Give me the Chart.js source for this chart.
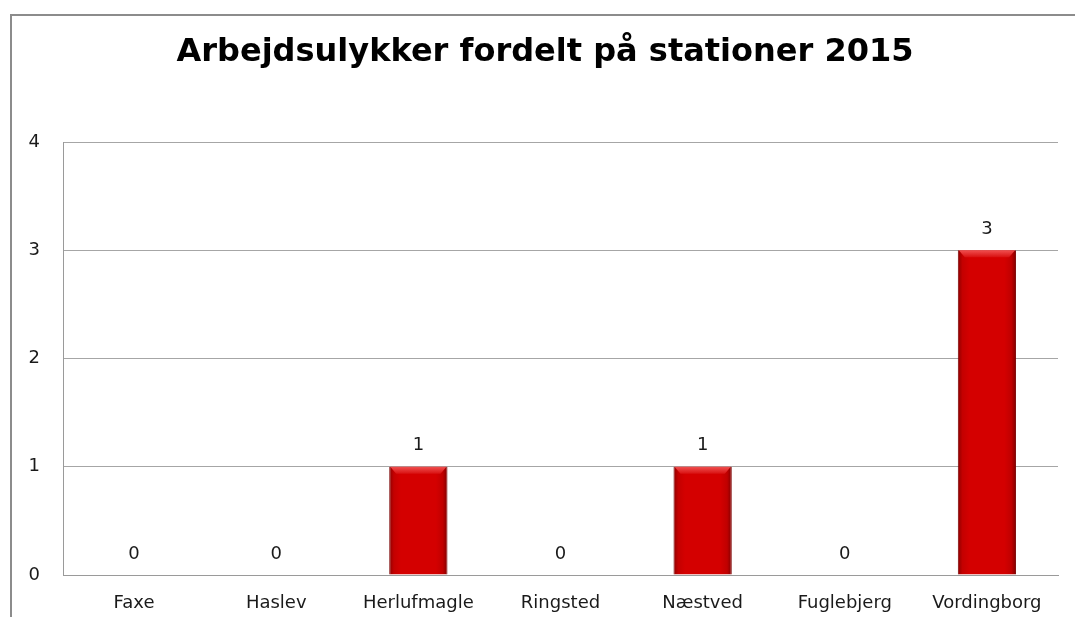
<!DOCTYPE html>
<html>
<head>
<meta charset="utf-8">
<script src="https://cdn.jsdelivr.net/npm/chart.js@4"></script>
<style>
  html, body { margin: 0; padding: 0; background: #fff; }
  #wrap { position: relative; width: 1075px; height: 617px; overflow: hidden; }
  #ramme { position: absolute; left: 10px; top: 14px; width: 1200px; height: 700px;
           border-left: 2px solid #8c8c8c; border-top: 2px solid #8c8c8c; }
  canvas { position: absolute; left: 0; top: 0; }
</style>
</head>
<body>
<div id="wrap">
  <div id="ramme"></div>
  <canvas id="chartStationer" width="1075" height="617"></canvas>
</div>
<script>
// Data
const stationer = ["Faxe", "Haslev", "Herlufmagle", "Ringsted", "Næstved", "Fuglebjerg", "Vordingborg"];
const ulykker = [0, 0, 1, 0, 1, 0, 3];
const yTicks = [0, 1, 2, 3, 4];
const titel = "Arbejdsulykker fordelt på stationer 2015";
const soejleBredde = 0.41;
const skrift = "'DejaVu Sans'";

// rød søjle med lidt "3D"-skygge i kanterne
function soejleFarve(context) {
  const chart = context.chart;
  const area = chart.chartArea;
  const xScale = chart.scales.x;
  if (!area || !xScale) return "#d00000";
  const x = xScale.getPixelForValue(context.dataIndex);
  const half = (area.right - area.left) / stationer.length * soejleBredde / 2;
  if (!isFinite(x) || !isFinite(half) || half <= 0) return "#d00000";
  const g = chart.ctx.createLinearGradient(x - half, 0, x + half, 0);
  g.addColorStop(0, "#8c0000");
  g.addColorStop(0.08, "#c40000");
  g.addColorStop(0.2, "#d40000");
  g.addColorStop(0.8, "#d40000");
  g.addColorStop(0.92, "#c00000");
  g.addColorStop(1, "#800000");
  return g;
}

// titel (lidt til højre for midten, som i originalen)
const titelPlugin = {
  id: "titelPlugin",
  afterDraw(chart) {
    const ctx = chart.ctx;
    ctx.save();
    ctx.font = "bold 32px " + skrift;
    ctx.fillStyle = "#000";
    ctx.textAlign = "center";
    ctx.textBaseline = "middle";
    ctx.fillText(titel, 545, 53);
    ctx.restore();
  }
};

// lys kant øverst på søjlen + værdier over søjlerne
const vaerdiLabels = {
  id: "vaerdiLabels",
  afterDatasetsDraw(chart) {
    const ctx = chart.ctx;
    const meta = chart.getDatasetMeta(0);
    ctx.save();
    meta.data.forEach((bar, i) => {
      if (ulykker[i] <= 0) return;
      const half = bar.width / 2;
      const top = bar.y;
      ctx.beginPath();
      ctx.moveTo(bar.x - half + 1, top);
      ctx.lineTo(bar.x + half - 1, top);
      ctx.lineTo(bar.x + half - 7, top + 7);
      ctx.lineTo(bar.x - half + 7, top + 7);
      ctx.closePath();
      const g = ctx.createLinearGradient(0, top, 0, top + 7);
      g.addColorStop(0, "#f05050");
      g.addColorStop(1, "#d81010");
      ctx.fillStyle = g;
      ctx.fill();
    });
    ctx.font = "18px " + skrift;
    ctx.fillStyle = "#1a1a1a";
    ctx.textAlign = "center";
    ctx.textBaseline = "middle";
    meta.data.forEach((bar, i) => {
      ctx.fillText(String(ulykker[i]), bar.x, bar.y - 21);
    });
    ctx.restore();
  }
};

const ctx = document.getElementById("chartStationer");
new Chart(ctx, {
  type: "bar",
  data: {
    labels: stationer,
    datasets: [{
      label: "Arbejdsulykker",
      data: ulykker,
      backgroundColor: soejleFarve,
      borderColor: "#7a0000",
      borderWidth: { left: 1, right: 1, top: 0, bottom: 0 },
      categoryPercentage: 1,
      barPercentage: soejleBredde
    }]
  },
  options: {
    responsive: false,
    animation: false,
    layout: { padding: { left: 0, right: 17, top: 142, bottom: 0 } },
    plugins: {
      legend: { display: false },
      tooltip: { enabled: false },
      title: { display: false }
    },
    scales: {
      x: {
        grid: { display: false, drawTicks: false },
        border: { display: true, color: "#9a9a9a", width: 1 },
        ticks: { color: "#1a1a1a", font: { family: skrift, size: 18 }, padding: 18, maxRotation: 0 },
        afterFit(scale) { scale.height = 42; }
      },
      y: {
        min: 0,
        max: 4,
        afterBuildTicks(scale) { scale.ticks = yTicks.map(v => ({ value: v })); },
        grid: { color: "#a6a6a6", lineWidth: 1, drawTicks: false },
        border: { display: true, color: "#9a9a9a", width: 1 },
        ticks: { color: "#1a1a1a", font: { family: skrift, size: 18 }, padding: 23 },
        afterFit(scale) { scale.width = 63; }
      }
    }
  },
  plugins: [vaerdiLabels, titelPlugin]
});
</script>
</body>
</html>
